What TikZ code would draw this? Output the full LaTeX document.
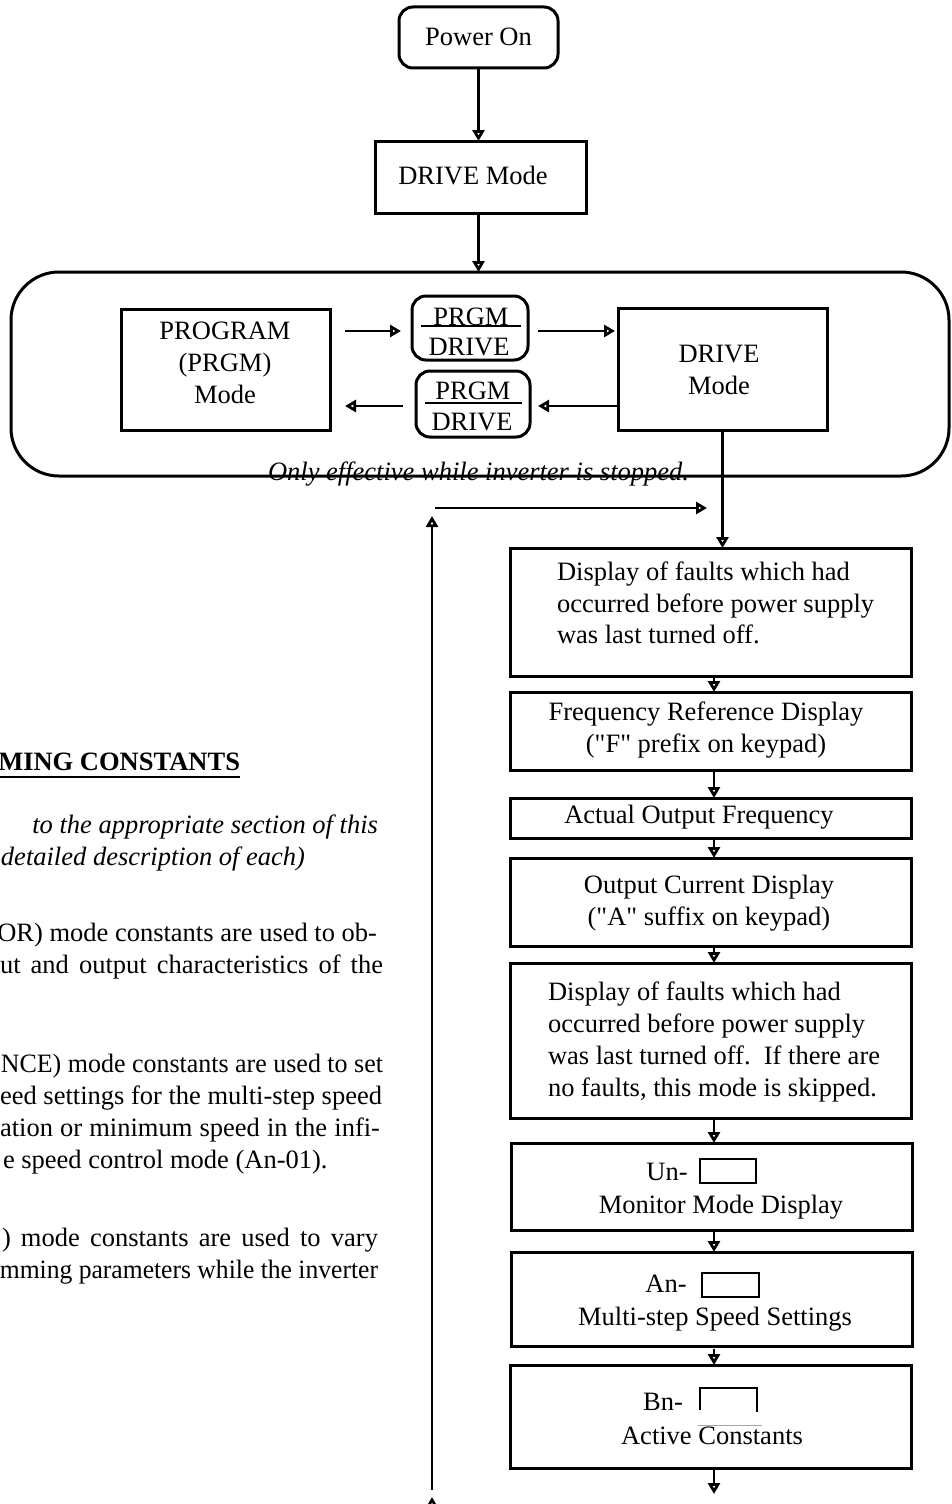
\documentclass[tikz,border=0pt]{standalone}
\usepackage{fontspec}
\setmainfont{Liberation Serif}[Ligatures=TeXOff]
\usetikzlibrary{arrows.meta}
\begin{document}
\begin{tikzpicture}[x=1pt,y=-1pt,
  every node/.style={font=\fontsize{26.5}{31.7}\selectfont, inner sep=0pt, outer sep=0pt},
  box/.style={draw, line width=3pt, minimum width=401pt},
  plain/.style={draw, line width=3pt},
  rbox/.style={draw, line width=3pt, rounded corners=14pt},
  sbox/.style={draw, line width=2.6pt},
  arr/.style={line width=2.8pt, -{Triangle[open,length=11pt,width=12pt]}},
  lt/.style={anchor=base east},
  lw/.style={anchor=base west}]
\useasboundingbox (0,0) rectangle (951,1504);
\clip (0,0) rectangle (951,1504);

% ---------- top ----------
\node[rbox, minimum width=159pt, minimum height=61pt] (pon) at (478.5,37.5) {};
\node (ponT) at (478.5,37) {Power On};
\node[plain, minimum width=211pt, minimum height=72pt] (dm) at (480.5,177) {};
\node (dmT) at (473,176) {DRIVE Mode};
\draw[arr] (pon.south) -- (pon.south |- dm.north);

% ---------- big rounded region ----------
\node[draw, line width=3pt, rounded corners=48pt, minimum width=938pt, minimum height=204pt] (big) at (480,374) {};
\draw[arr] (dm.south -| pon.south) -- (pon.south |- big.north);

\node[plain, minimum width=209pt, minimum height=121pt] (prog) at (225.5,369.5) {};
\node[align=center] (progT) at (225,363) {PROGRAM\\(PRGM)\\Mode};

\node[rbox, minimum width=116pt, minimum height=64pt] (pd1) at (470,328) {};
\node (pd1a) at (471,317) {PRGM};
\node (pd1b) at (469,347) {DRIVE};
\draw[line width=2.6pt] (421,326) -- (521,326);

\node[rbox, minimum width=114pt, minimum height=66pt] (pd2) at (473,404) {};
\node (pd2a) at (473,391) {PRGM};
\node (pd2b) at (472,422) {DRIVE};
\draw[line width=2.6pt] (425,403) -- (522,403);

\node[plain, minimum width=209pt, minimum height=122pt] (drv) at (722.5,369) {};
\node[align=center] (drvT) at (719,370) {DRIVE\\Mode};

\draw[arr, shorten <=15pt, shorten >=11pt] (prog.east |- 0,331) -- (pd1.west |- 0,331);
\draw[arr, shorten <=10pt, shorten >=3pt] (pd1.east |- 0,331) -- (drv.west |- 0,331);
\draw[arr, shorten >=8pt] (drv.west |- 0,406) -- (pd2.east |- 0,406);
\draw[arr, shorten <=13pt, shorten >=15pt] (pd2.west |- 0,406) -- (prog.east |- 0,406);

\node[anchor=base] (note) at (478.5,480) {\itshape Only effective while inverter is stopped.};

% ---------- right column ----------
\coordinate (cx) at (714,0);
\node[box, minimum height=128pt] (f1) at (711,612) {};
\node[anchor=west, align=left] (f1T) at (557,603) {Display of faults which had\\occurred before power supply\\was last turned off.};
\node[box, minimum height=78pt] (f2) at (711,731) {};
\node[align=center] (f2T) at (706,730) {Frequency Reference Display\\("F" prefix on keypad)};
\node[box, minimum height=40pt] (f3) at (711,818) {};
\node (f3T) at (699,817) {Actual Output Frequency};
\node[box, minimum height=88pt] (f4) at (711,902) {};
\node[align=center] (f4T) at (709,903) {Output Current Display\\("A" suffix on keypad)};
\node[box, minimum height=155pt] (f5) at (711,1040.5) {};
\node[anchor=west, align=left] (f5T) at (548,1042) {Display of faults which had\\occurred before power supply\\was last turned off.\enspace If there are\\no faults, this mode is skipped.};
\node[box, minimum height=87pt] (f6) at (712,1186.5) {};
\node (f6a) at (667,1172) {Un-};
\node[sbox, minimum width=56pt, minimum height=24pt] (f6b) at (728,1171) {};
\node (f6c) at (721,1207) {Monitor Mode Display};
\node[box, minimum height=94pt] (f7) at (712,1299) {};
\node (f7a) at (666,1284) {An-};
\node[sbox, minimum width=57pt, minimum height=24pt] (f7b) at (730.5,1285) {};
\node (f7c) at (715,1319) {Multi-step Speed Settings};
\node[box, minimum height=103pt] (f8) at (711,1416.5) {};
\node (f8a) at (663,1402) {Bn-};
\draw[line width=2.6pt] (700,1410) -- (700,1388) -- (757,1388) -- (757,1412);
\draw[gray!70, line width=1pt] (698,1425) -- (762,1425);
\node (f8c) at (712,1436) {Active Constants};

\draw[arr] (drv.south) -- (drv.south |- f1.north);
\draw[arr] (f1.south -| cx) -- (f2.north -| cx);
\draw[arr] (f2.south -| cx) -- (f3.north -| cx);
\draw[arr] (f3.south -| cx) -- (f4.north -| cx);
\draw[arr] (f4.south -| cx) -- (f5.north -| cx);
\draw[arr] (f5.south -| cx) -- (f6.north -| cx);
\draw[arr] (f6.south -| cx) -- (f7.north -| cx);
\draw[arr, shorten <=3pt] (f7.south -| cx) -- (f8.north -| cx);
\coordinate (fend) at (714,1494);
\draw[arr] (f8.south -| cx) -- (fend);

% ---------- return loop ----------
\coordinate (lb) at (432,1490);
\coordinate (ltop) at (432,516);
\draw[arr] (lb) -- (ltop);
\coordinate (lb2) at (432,1540);
\coordinate (lb3) at (432,1497);
\draw[arr] (lb2) -- (lb3);
\coordinate (hs) at (435,508);
\coordinate (he) at (707,508);
\draw[arr] (hs) -- (he);

% ---------- left text (cut off at the page edge) ----------
\node[lt] (h1) at (240,770) {\bfseries MING CONSTANTS};
\draw[line width=1.8pt] (0,777) -- (h1.base east |- 0,777);
\node[lt] (i1) at (378,833) {\itshape to the appropriate section of this};
\node[lw] (i2) at (1,865) {\itshape detailed description of each)};
\node[lt] (p1a) at (377,941) {OR) mode constants are used to ob-};
\node[lw] (p1b) at (0,973) {\makebox[383pt][s]{ut and output characteristics of the}};
\node[lt] (p2a) at (383,1072) {\scalebox{0.98}[1]{NCE) mode constants are used to set}};
\node[lt] (p2b) at (382,1104) {eed settings for the multi-step speed};
\node[lw] (p2c) at (0,1136) {\makebox[380pt][s]{ation or minimum speed in the infi-}};
\node[lw] (p2d) at (3,1168) {e speed control mode (An-01).};
\node[lw] (p3a) at (2,1246) {\makebox[376pt][s]{) mode constants are used to vary}};
\node[lt] (p3b) at (378,1278) {\scalebox{0.966}[1]{mming parameters while the inverter}};
\end{tikzpicture}
\end{document}
